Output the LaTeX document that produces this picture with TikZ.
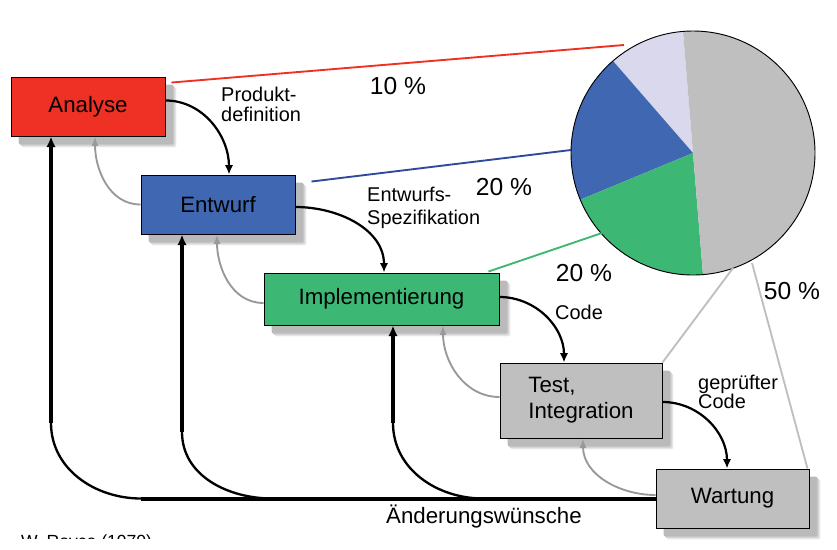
\documentclass[tikz,border=0pt]{standalone}
\usepackage{fontspec}
\setmainfont{Liberation Sans}
\usetikzlibrary{arrows.meta, positioning, calc, backgrounds}
\definecolor{wred}{HTML}{EE3124}
\definecolor{wblue}{HTML}{4068B2}
\definecolor{wbluedark}{HTML}{2F4A9C}
\definecolor{wgreen}{HTML}{3CB874}
\definecolor{wgray}{HTML}{BFBFBF}
\definecolor{wlav}{HTML}{D9D8EC}
\definecolor{wback}{HTML}{999999}
\newcommand{\boxshadow}[1]{%
  \foreach \d/\s in {11/8, 10/14, 9/20, 8/27} {
    \fill[black!\s, rounded corners=2pt]
      ($(#1.north west)+(\d,\d)$) rectangle ($(#1.south east)+(\d,\d)$);
  }
}
\tikzset{
  phase/.style={draw=black, line width=0.8pt, inner sep=0pt,
    font=\fontsize{19}{22}\selectfont},
  fwd/.style={line width=1.9pt, -{Latex[length=8pt, width=7pt]}},
  back/.style={draw=wback, line width=1.6pt, -{Latex[length=8pt, width=6pt]}},
  fbk/.style={line width=3.4pt, -{Latex[length=9pt, width=8pt]}},
  fbcurve/.style={line width=2pt},
  piefeed/.style={line width=1.6pt},
  lbl/.style={font=\fontsize{17}{17}\selectfont, align=left, inner sep=0pt},
  pct/.style={font=\fontsize{21}{22}\selectfont, inner sep=0pt}
}
\begin{document}
\begin{tikzpicture}[x=0.03cm, y=-0.03cm]
  \useasboundingbox (0,0) rectangle (837,549);

  %% pie (visual angles negated, y axis points down)
  \coordinate (pc) at (693,153);
  \fill[wlav]   (pc) -- ++(-94.7:122)  arc[start angle=-94.7,  end angle=-131,   radius=122] -- cycle;
  \fill[wblue]  (pc) -- ++(-131:122)   arc[start angle=-131,   end angle=-202.5, radius=122] -- cycle;
  \fill[wgreen] (pc) -- ++(-202.5:122) arc[start angle=-202.5, end angle=-274.7, radius=122] -- cycle;
  \fill[wgray]  (pc) -- ++(-274.7:122) arc[start angle=-274.7, end angle=-454.7, radius=122] -- cycle;
  \draw[line width=0.8pt] (pc) circle[radius=122];
  \coordinate (p10) at (624,45);
  \coordinate (p20a) at (571,150);
  \coordinate (p20b) at (602,233);
  \coordinate (p50a) at (733,268);
  \coordinate (p50b) at (752,263);

  %% phases
  \node[phase, fill=wred, minimum width=4.62cm, minimum height=1.77cm] (ana) at (88,106.5) {Analyse};
  \node[phase, fill=wblue, minimum width=4.62cm, minimum height=1.77cm] (ent) at (218,204.5) {Entwurf};
  \node[phase, fill=wgreen, minimum width=7.05cm, minimum height=1.56cm] (imp) at (381.5,299) {Implementierung};
  \node[phase, fill=wgray, minimum width=4.86cm, minimum height=2.25cm, align=left] (tst) at (581,400.5) {Test,\\Integration};
  \node[phase, fill=wgray, minimum width=4.59cm, minimum height=1.77cm] (war) at (732.5,498.5) {Wartung};

  %% shadows
  \begin{scope}[on background layer]
    \boxshadow{ana}
    \boxshadow{ent}
    \boxshadow{imp}
    \boxshadow{tst}
    \boxshadow{war}
  \end{scope}

  %% lines to the pie
  \draw[wred, piefeed] ($(ana.north east)+(6,6)$) -- (p10);
  \draw[wbluedark, piefeed] ($(ent.north east)+(16,7)$) -- (p20a);
  \draw[wgreen, piefeed] ($(imp.north east)+(-11,-1)$) -- (p20b);
  \draw[wgray, piefeed] (tst.north east) -- (p50a);
  \draw[wgray, piefeed] ($(war.north east)+(-2,0)$) -- (p50b);

  %% forward
  \draw[fwd] ($(ana.east)+(0,-6)$) to[out=0, in=90] ($(ent.north)+(11,0)$);
  \draw[fwd] ($(ent.east)+(0,2.5)$) to[out=0, in=90] ($(imp.north)+(2.5,0)$);
  \draw[fwd] ($(imp.east)+(0,-2)$) to[out=0, in=90] ($(tst.north)+(-17,0)$);
  \draw[fwd] ($(tst.east)+(0,1.5)$) to[out=0, in=90] ($(war.north)+(-5.5,0)$);

  %% back
  \draw[back] (ent.west) to[out=180, in=-90] ($(ana.south)+(7,0)$);
  \draw[back] ($(imp.west)+(0,4)$) to[out=180, in=-90] ($(ent.south)+(-1,0)$);
  \draw[back] ($(tst.west)+(0,-3.5)$) to[out=180, in=-90] ($(imp.south)+(61.5,0)$);
  \draw[back] ($(war.west)+(0,-3.5)$) to[out=180, in=-90] ($(tst.south)+(2,0)$);

  %% change requests
  \coordinate (fb0) at (141,498.5);
  \coordinate (fb1) at (51,423);
  \coordinate (fb2) at (182,432);
  \coordinate (fb3) at (393,423);
  \draw[line width=3.4pt] (fb0) -- (fb0 -| war.west);
  \draw[fbcurve] (fb1) to[out=-90, in=180] (fb0);
  \draw[fbcurve] (fb2) to[out=-90, in=180] (272,498.5);
  \draw[fbcurve] (fb3) to[out=-90, in=180] (483,498.5);
  \draw[fbk] (fb1) -- (fb1 |- ana.south);
  \draw[fbk] (fb2) -- (fb2 |- ent.south);
  \draw[fbk] (fb3) -- (fb3 |- imp.south);

  %% labels
  \node[lbl, anchor=west] (lprod) at (221,104) {Produkt-\\definition};
  \node[lbl, anchor=west, font=\fontsize{17}{20}\selectfont] (lspec) at (367,208) {Entwurfs-\\Spezifikation};
  \node[lbl, anchor=west] (lcode) at (555,312) {Code};
  \node[lbl, anchor=west, font=\fontsize{17}{16}\selectfont] (lgcode) at (698,392) {geprüfter\\Code};
  \node[pct] (pct10) at (398,86) {10 \%};
  \node[pct] (pct20a) at (504,187) {20 \%};
  \node[pct] (pct20b) at (584,273) {20 \%};
  \node[pct] (pct50) at (792,291) {50 \%};
  \node[font=\fontsize{19}{20}\selectfont, inner sep=0pt] (lchg) at (484,516) {Änderungswünsche};

  %% cut-off source line
  \begin{scope}
    \clip (0,530) rectangle (300,538);
    \node[font=\fontsize{15}{17}\selectfont, anchor=north west, inner sep=0pt] (lsrc) at (21,535) {W. Royce (1970)};
  \end{scope}
\end{tikzpicture}
\end{document}
